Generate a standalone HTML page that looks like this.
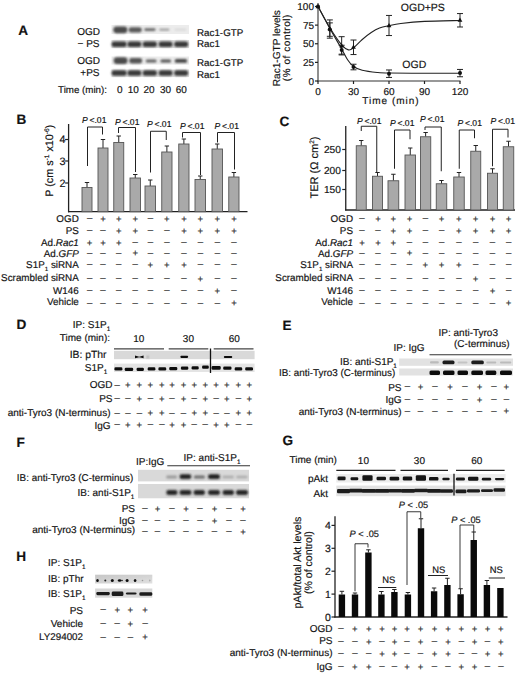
<!DOCTYPE html>
<html><head><meta charset="utf-8"><style>
html,body{margin:0;padding:0;background:#fff;}
svg{display:block;text-rendering:geometricPrecision;}
text{stroke:#1a1a1a;stroke-width:0.18px;}
</style></head><body>
<svg width="520" height="673" viewBox="0 0 520 673" font-family='"Liberation Sans", sans-serif' font-size="10" fill="#111">
<defs><filter id="bl" x="-20%" y="-50%" width="140%" height="200%"><feGaussianBlur stdDeviation="0.6"/></filter>
<filter id="bl2" x="-30%" y="-80%" width="160%" height="260%"><feGaussianBlur stdDeviation="0.9"/></filter></defs>
<rect width="520" height="673" fill="#fff"/>
<text x="18.2" y="35" font-size="13.6" font-weight="bold">A</text>
<text x="100" y="34.5" text-anchor="end">OGD</text>
<text x="99.5" y="47" text-anchor="end">&#8722; PS</text>
<text x="100" y="64" text-anchor="end">OGD</text>
<text x="99.5" y="76" text-anchor="end">+PS</text>
<text x="107" y="92.5" font-size="9.75" text-anchor="end">Time (min):</text>
<text x="119.8" y="92.5" text-anchor="middle">0</text>
<text x="133.2" y="92.5" text-anchor="middle">10</text>
<text x="149.1" y="92.5" text-anchor="middle">20</text>
<text x="165.6" y="92.5" text-anchor="middle">30</text>
<text x="181.2" y="92.5" text-anchor="middle">60</text>
<rect x="111.5" y="25" width="77.5" height="9" fill="#ececec"/>
<rect x="111.5" y="40" width="77.5" height="8" fill="#e0e0e0"/>
<rect x="111.5" y="56.5" width="77.5" height="8" fill="#ececec"/>
<rect x="111.5" y="69.5" width="77.5" height="7.5" fill="#e0e0e0"/>
<rect x="113.3" y="26.4" width="14.100000000000009" height="6.800000000000004" rx="3.4" fill="#4c4c4c" filter="url(#bl2)"/>
<rect x="128.6" y="27.2" width="13.200000000000017" height="5.199999999999999" rx="2.6" fill="#5a5a5a" filter="url(#bl2)"/>
<rect x="144.2" y="28.2" width="11.400000000000006" height="2.8000000000000007" rx="1.4" fill="#666" filter="url(#bl2)"/>
<rect x="159.3" y="28.8" width="10.099999999999994" height="1.6999999999999993" rx="0.8" fill="#8a8a8a" filter="url(#bl2)"/>
<rect x="174.5" y="28.7" width="11.800000000000011" height="1.8000000000000007" rx="0.8" fill="#d5d5d5" filter="url(#bl2)"/>
<rect x="111.6" y="41.4" width="15.0" height="5.600000000000001" rx="2.5" fill="#383838" filter="url(#bl2)"/>
<rect x="127.5" y="41.4" width="13.800000000000011" height="5.600000000000001" rx="2.5" fill="#383838" filter="url(#bl2)"/>
<rect x="142.7" y="41.4" width="14.200000000000017" height="5.600000000000001" rx="2.5" fill="#383838" filter="url(#bl2)"/>
<rect x="158.7" y="41.4" width="13.800000000000011" height="5.600000000000001" rx="2.5" fill="#383838" filter="url(#bl2)"/>
<rect x="174.2" y="41.4" width="13.900000000000006" height="5.600000000000001" rx="2.5" fill="#383838" filter="url(#bl2)"/>
<rect x="113.7" y="57.3" width="13.799999999999997" height="6.700000000000003" rx="3.3" fill="#4c4c4c" filter="url(#bl2)"/>
<rect x="129.2" y="58" width="13.0" height="5.5" rx="2.7" fill="#555" filter="url(#bl2)"/>
<rect x="145.7" y="59.4" width="10.900000000000006" height="3.0" rx="1.5" fill="#606060" filter="url(#bl2)"/>
<rect x="160.4" y="59.4" width="10.699999999999989" height="3.0" rx="1.5" fill="#555" filter="url(#bl2)"/>
<rect x="174.7" y="59" width="12.5" height="3.799999999999997" rx="1.9" fill="#444" filter="url(#bl2)"/>
<rect x="111.6" y="70.2" width="15.0" height="5.599999999999994" rx="2.5" fill="#383838" filter="url(#bl2)"/>
<rect x="127.5" y="70.2" width="13.800000000000011" height="5.599999999999994" rx="2.5" fill="#383838" filter="url(#bl2)"/>
<rect x="142.7" y="70.2" width="14.200000000000017" height="5.599999999999994" rx="2.5" fill="#383838" filter="url(#bl2)"/>
<rect x="158.7" y="70.2" width="13.800000000000011" height="5.599999999999994" rx="2.5" fill="#383838" filter="url(#bl2)"/>
<rect x="174.2" y="70.2" width="13.900000000000006" height="5.599999999999994" rx="2.5" fill="#383838" filter="url(#bl2)"/>
<text x="197" y="36.1" font-size="9.8">Rac1-GTP</text>
<text x="197" y="47.1" font-size="9.8">Rac1</text>
<text x="197" y="65.6" font-size="9.8">Rac1-GTP</text>
<text x="197" y="78.1" font-size="9.8">Rac1</text>
<line x1="318" y1="3" x2="318" y2="81.5" stroke="#333" stroke-width="1.1"/>
<line x1="317.5" y1="81" x2="460.5" y2="81" stroke="#333" stroke-width="1.1"/>
<line x1="315" y1="6.5" x2="318" y2="6.5" stroke="#222" stroke-width="1.2"/>
<text x="314" y="10.1" text-anchor="end">100</text>
<line x1="315" y1="25.125" x2="318" y2="25.125" stroke="#222" stroke-width="1.2"/>
<text x="314" y="28.725" text-anchor="end">75</text>
<line x1="315" y1="43.75" x2="318" y2="43.75" stroke="#222" stroke-width="1.2"/>
<text x="314" y="47.35" text-anchor="end">50</text>
<line x1="315" y1="62.375" x2="318" y2="62.375" stroke="#222" stroke-width="1.2"/>
<text x="314" y="65.975" text-anchor="end">25</text>
<line x1="315" y1="81.0" x2="318" y2="81.0" stroke="#222" stroke-width="1.2"/>
<text x="314" y="84.6" text-anchor="end">0</text>
<line x1="318.0" y1="81" x2="318.0" y2="84" stroke="#222" stroke-width="1.2"/>
<text x="318.0" y="95" text-anchor="middle">0</text>
<line x1="353.5" y1="81" x2="353.5" y2="84" stroke="#222" stroke-width="1.2"/>
<text x="353.5" y="95" text-anchor="middle">30</text>
<line x1="389.0" y1="81" x2="389.0" y2="84" stroke="#222" stroke-width="1.2"/>
<text x="389.0" y="95" text-anchor="middle">60</text>
<line x1="424.5" y1="81" x2="424.5" y2="84" stroke="#222" stroke-width="1.2"/>
<text x="424.5" y="95" text-anchor="middle">90</text>
<line x1="460.0" y1="81" x2="460.0" y2="84" stroke="#222" stroke-width="1.2"/>
<text x="460.0" y="95" text-anchor="middle">120</text>
<text x="391" y="104" text-anchor="middle" letter-spacing="1">Time (min)</text>
<text transform="translate(280,48.2) rotate(-90)" text-anchor="middle" font-size="10.1">Rac1-GTP levels</text>
<text transform="translate(289.6,47.6) rotate(-90)" text-anchor="middle" letter-spacing="0.55">(% of control)</text>
<text x="400.8" y="10.6" font-size="10.5">OGD+PS</text>
<text x="402.3" y="68.2" font-size="10.5">OGD</text>
<path d="M318.00,6.50 C319.97,10.16 325.89,21.40 329.83,28.48 C333.78,35.55 338.71,43.76 341.67,48.97 C344.62,54.17 345.61,56.78 347.58,59.69 C349.56,62.61 351.05,64.72 353.50,66.47 C355.95,68.22 358.31,69.20 362.26,70.20 C366.20,71.19 372.71,71.96 377.17,72.43 C381.62,72.90 381.11,72.89 389.00,73.03 C396.89,73.17 412.67,73.21 424.50,73.25 C436.33,73.29 454.08,73.25 460.00,73.25" fill="none" stroke="#222" stroke-width="1.1"/>
<path d="M318.00,6.50 C319.97,10.04 325.89,21.34 329.83,27.73 C333.78,34.13 338.57,41.18 341.67,44.87 C344.76,48.56 346.44,49.36 348.41,49.86 C350.38,50.36 351.19,49.57 353.50,47.85 C355.81,46.12 359.30,42.05 362.26,39.50 C365.21,36.96 368.37,34.47 371.25,32.58 C374.13,30.68 376.57,29.26 379.53,28.10 C382.49,26.95 385.45,26.42 389.00,25.65 C392.55,24.88 394.92,24.19 400.83,23.49 C406.75,22.78 414.64,21.91 424.50,21.40 C434.36,20.89 454.08,20.59 460.00,20.43" fill="none" stroke="#222" stroke-width="1.1"/>
<line x1="329.8333333333333" y1="19.910000000000004" x2="329.8333333333333" y2="38.1625" stroke="#222" stroke-width="1"/>
<line x1="326.8333333333333" y1="19.910000000000004" x2="332.8333333333333" y2="19.910000000000004" stroke="#222" stroke-width="1"/>
<line x1="326.8333333333333" y1="38.1625" x2="332.8333333333333" y2="38.1625" stroke="#222" stroke-width="1"/>
<line x1="341.6666666666667" y1="36.6725" x2="341.6666666666667" y2="54.925" stroke="#222" stroke-width="1"/>
<line x1="338.6666666666667" y1="36.6725" x2="344.6666666666667" y2="36.6725" stroke="#222" stroke-width="1"/>
<line x1="338.6666666666667" y1="54.925" x2="344.6666666666667" y2="54.925" stroke="#222" stroke-width="1"/>
<line x1="353.5" y1="40.025" x2="353.5" y2="54.552499999999995" stroke="#222" stroke-width="1"/>
<line x1="350.5" y1="40.025" x2="356.5" y2="40.025" stroke="#222" stroke-width="1"/>
<line x1="350.5" y1="54.552499999999995" x2="356.5" y2="54.552499999999995" stroke="#222" stroke-width="1"/>
<line x1="389.0" y1="15.439999999999998" x2="389.0" y2="35.555" stroke="#222" stroke-width="1"/>
<line x1="386.0" y1="15.439999999999998" x2="392.0" y2="15.439999999999998" stroke="#222" stroke-width="1"/>
<line x1="386.0" y1="35.555" x2="392.0" y2="35.555" stroke="#222" stroke-width="1"/>
<line x1="460.0" y1="13.5775" x2="460.0" y2="26.987499999999997" stroke="#222" stroke-width="1"/>
<line x1="457.0" y1="13.5775" x2="463.0" y2="13.5775" stroke="#222" stroke-width="1"/>
<line x1="457.0" y1="26.987499999999997" x2="463.0" y2="26.987499999999997" stroke="#222" stroke-width="1"/>
<line x1="329.8333333333333" y1="22.89" x2="329.8333333333333" y2="36.3" stroke="#222" stroke-width="1"/>
<line x1="326.8333333333333" y1="22.89" x2="332.8333333333333" y2="22.89" stroke="#222" stroke-width="1"/>
<line x1="326.8333333333333" y1="36.3" x2="332.8333333333333" y2="36.3" stroke="#222" stroke-width="1"/>
<line x1="341.6666666666667" y1="45.24" x2="341.6666666666667" y2="54.18" stroke="#222" stroke-width="1"/>
<line x1="338.6666666666667" y1="45.24" x2="344.6666666666667" y2="45.24" stroke="#222" stroke-width="1"/>
<line x1="338.6666666666667" y1="54.18" x2="344.6666666666667" y2="54.18" stroke="#222" stroke-width="1"/>
<line x1="353.5" y1="64.2375" x2="353.5" y2="69.825" stroke="#222" stroke-width="1"/>
<line x1="350.5" y1="64.2375" x2="356.5" y2="64.2375" stroke="#222" stroke-width="1"/>
<line x1="350.5" y1="69.825" x2="356.5" y2="69.825" stroke="#222" stroke-width="1"/>
<line x1="389.0" y1="69.974" x2="389.0" y2="77.424" stroke="#222" stroke-width="1"/>
<line x1="386.0" y1="69.974" x2="392.0" y2="69.974" stroke="#222" stroke-width="1"/>
<line x1="386.0" y1="77.424" x2="392.0" y2="77.424" stroke="#222" stroke-width="1"/>
<line x1="460.0" y1="69.4525" x2="460.0" y2="76.7535" stroke="#222" stroke-width="1"/>
<line x1="457.0" y1="69.4525" x2="463.0" y2="69.4525" stroke="#222" stroke-width="1"/>
<line x1="457.0" y1="76.7535" x2="463.0" y2="76.7535" stroke="#222" stroke-width="1"/>
<path d="M318.00,3.90 L320.40,8.30 L315.60,8.30Z" fill="#111"/>
<path d="M329.83,25.88 L332.23,30.28 L327.43,30.28Z" fill="#111"/>
<path d="M341.67,43.16 L344.07,47.56 L339.27,47.56Z" fill="#111"/>
<path d="M353.50,44.43 L355.90,48.83 L351.10,48.83Z" fill="#111"/>
<path d="M389.00,22.90 L391.40,27.30 L386.60,27.30Z" fill="#111"/>
<path d="M460.00,17.38 L462.40,21.78 L457.60,21.78Z" fill="#111"/>
<circle cx="318.00" cy="6.50" r="2" fill="#111"/>
<circle cx="329.83" cy="29.59" r="2" fill="#111"/>
<circle cx="341.67" cy="50.01" r="2" fill="#111"/>
<circle cx="353.50" cy="66.99" r="2" fill="#111"/>
<circle cx="389.00" cy="73.77" r="2" fill="#111"/>
<circle cx="460.00" cy="73.03" r="2" fill="#111"/>
<text x="16.6" y="123.9" font-size="13.6" font-weight="bold">B</text>
<line x1="68.6" y1="124" x2="68.6" y2="212.29999999999998" stroke="#222" stroke-width="1.3"/>
<line x1="68.0" y1="211.7" x2="247.5" y2="211.7" stroke="#222" stroke-width="1.3"/>
<line x1="65.1" y1="139.5" x2="68.6" y2="139.5" stroke="#222" stroke-width="1.2"/>
<text x="65.39999999999999" y="143.1" font-size="10.8" text-anchor="end">4</text>
<line x1="65.1" y1="161" x2="68.6" y2="161" stroke="#222" stroke-width="1.2"/>
<text x="65.39999999999999" y="164.6" font-size="10.8" text-anchor="end">3</text>
<line x1="65.1" y1="183" x2="68.6" y2="183" stroke="#222" stroke-width="1.2"/>
<text x="65.39999999999999" y="186.6" font-size="10.8" text-anchor="end">2</text>
<line x1="87.0" y1="182.5" x2="87.0" y2="187.5" stroke="#222" stroke-width="1"/>
<line x1="84.8" y1="182.5" x2="89.2" y2="182.5" stroke="#222" stroke-width="1"/>
<rect x="82" y="187.5" width="10" height="24.19999999999999" fill="#a9a9a9" stroke="#555" stroke-width="0.9"/>
<line x1="103.0" y1="139.5" x2="103.0" y2="148" stroke="#222" stroke-width="1"/>
<line x1="100.8" y1="139.5" x2="105.2" y2="139.5" stroke="#222" stroke-width="1"/>
<rect x="98" y="148" width="10" height="63.69999999999999" fill="#a9a9a9" stroke="#555" stroke-width="0.9"/>
<line x1="118.75" y1="136" x2="118.75" y2="142.5" stroke="#222" stroke-width="1"/>
<line x1="116.55" y1="136" x2="120.95" y2="136" stroke="#222" stroke-width="1"/>
<rect x="113.75" y="142.5" width="10.0" height="69.19999999999999" fill="#a9a9a9" stroke="#555" stroke-width="0.9"/>
<line x1="135.25" y1="174.5" x2="135.25" y2="178" stroke="#222" stroke-width="1"/>
<line x1="133.05" y1="174.5" x2="137.45" y2="174.5" stroke="#222" stroke-width="1"/>
<rect x="130" y="178" width="10.5" height="33.69999999999999" fill="#a9a9a9" stroke="#555" stroke-width="0.9"/>
<line x1="150.25" y1="180" x2="150.25" y2="186" stroke="#222" stroke-width="1"/>
<line x1="148.05" y1="180" x2="152.45" y2="180" stroke="#222" stroke-width="1"/>
<rect x="145" y="186" width="10.5" height="25.69999999999999" fill="#a9a9a9" stroke="#555" stroke-width="0.9"/>
<line x1="166.875" y1="146" x2="166.875" y2="152" stroke="#222" stroke-width="1"/>
<line x1="164.675" y1="146" x2="169.075" y2="146" stroke="#222" stroke-width="1"/>
<rect x="161.75" y="152" width="10.25" height="59.69999999999999" fill="#a9a9a9" stroke="#555" stroke-width="0.9"/>
<line x1="183.875" y1="139" x2="183.875" y2="144" stroke="#222" stroke-width="1"/>
<line x1="181.675" y1="139" x2="186.075" y2="139" stroke="#222" stroke-width="1"/>
<rect x="178.75" y="144" width="10.25" height="67.69999999999999" fill="#a9a9a9" stroke="#555" stroke-width="0.9"/>
<line x1="200.25" y1="176" x2="200.25" y2="179.5" stroke="#222" stroke-width="1"/>
<line x1="198.05" y1="176" x2="202.45" y2="176" stroke="#222" stroke-width="1"/>
<rect x="195" y="179.5" width="10.5" height="32.19999999999999" fill="#a9a9a9" stroke="#555" stroke-width="0.9"/>
<line x1="217.25" y1="144" x2="217.25" y2="149" stroke="#222" stroke-width="1"/>
<line x1="215.05" y1="144" x2="219.45" y2="144" stroke="#222" stroke-width="1"/>
<rect x="212" y="149" width="10.5" height="62.69999999999999" fill="#a9a9a9" stroke="#555" stroke-width="0.9"/>
<line x1="233.875" y1="172.5" x2="233.875" y2="177" stroke="#222" stroke-width="1"/>
<line x1="231.675" y1="172.5" x2="236.075" y2="172.5" stroke="#222" stroke-width="1"/>
<rect x="228.75" y="177" width="10.25" height="34.69999999999999" fill="#a9a9a9" stroke="#555" stroke-width="0.9"/>
<text x="82" y="122.5" font-size="8.6"><tspan font-style="italic">P</tspan>&#8201;&lt;.01</text>
<path d="M87.5,166 V127 H102.5 V134.5" fill="none" stroke="#222" stroke-width="1"/>
<text x="115" y="125" font-size="8.6"><tspan font-style="italic">P</tspan>&#8201;&lt;.01</text>
<path d="M118.5,133 V127.5 H135.5 V172" fill="none" stroke="#222" stroke-width="1"/>
<text x="147" y="127" font-size="8.6"><tspan font-style="italic">P</tspan>&#8201;&lt;.01</text>
<path d="M150.5,172.5 V131.25 H166.25 V140" fill="none" stroke="#222" stroke-width="1"/>
<text x="180" y="128.7" font-size="8.6"><tspan font-style="italic">P</tspan>&#8201;&lt;.01</text>
<path d="M182.5,137.5 V132.5 H200.5 V175" fill="none" stroke="#222" stroke-width="1"/>
<text x="214.5" y="129" font-size="8.6"><tspan font-style="italic">P</tspan>&#8201;&lt;.01</text>
<path d="M217.5,142.5 V132.5 H234.5 V169.5" fill="none" stroke="#222" stroke-width="1"/>
<text transform="translate(52.9,160.8) rotate(-90)" text-anchor="middle" font-size="10.8">P (cm s<tspan font-size="6.5" dy="-4">-1</tspan><tspan dy="4"> x10</tspan><tspan font-size="6.5" dy="-4">-6</tspan><tspan dy="4">)</tspan></text>
<text x="78.8" y="222.1" font-size="9.85" text-anchor="end">OGD</text>
<text x="89.6" y="221.2" font-size="9.6" text-anchor="middle" fill="#383838">&#8211;</text>
<text x="103" y="222" font-size="9.6" text-anchor="middle" fill="#383838">+</text>
<text x="118.7" y="222" font-size="9.6" text-anchor="middle" fill="#383838">+</text>
<text x="135.25" y="222" font-size="9.6" text-anchor="middle" fill="#383838">+</text>
<text x="150.4" y="221.2" font-size="9.6" text-anchor="middle" fill="#383838">&#8211;</text>
<text x="166.9" y="222" font-size="9.6" text-anchor="middle" fill="#383838">+</text>
<text x="184" y="222" font-size="9.6" text-anchor="middle" fill="#383838">+</text>
<text x="200.4" y="222" font-size="9.6" text-anchor="middle" fill="#383838">+</text>
<text x="217.3" y="222" font-size="9.6" text-anchor="middle" fill="#383838">+</text>
<text x="234" y="222" font-size="9.6" text-anchor="middle" fill="#383838">+</text>
<text x="78.8" y="234.3" font-size="9.85" text-anchor="end">PS</text>
<text x="89.6" y="233.2" font-size="9.6" text-anchor="middle" fill="#383838">&#8211;</text>
<text x="103" y="233.2" font-size="9.6" text-anchor="middle" fill="#383838">&#8211;</text>
<text x="118.7" y="234" font-size="9.6" text-anchor="middle" fill="#383838">+</text>
<text x="135.25" y="234" font-size="9.6" text-anchor="middle" fill="#383838">+</text>
<text x="150.4" y="233.2" font-size="9.6" text-anchor="middle" fill="#383838">&#8211;</text>
<text x="166.9" y="233.2" font-size="9.6" text-anchor="middle" fill="#383838">&#8211;</text>
<text x="184" y="234" font-size="9.6" text-anchor="middle" fill="#383838">+</text>
<text x="200.4" y="234" font-size="9.6" text-anchor="middle" fill="#383838">+</text>
<text x="217.3" y="234" font-size="9.6" text-anchor="middle" fill="#383838">+</text>
<text x="234" y="234" font-size="9.6" text-anchor="middle" fill="#383838">+</text>
<text x="78.8" y="245.9" font-size="9.85" text-anchor="end">Ad.<tspan font-style="italic">Rac1</tspan></text>
<text x="89.6" y="245.8" font-size="9.6" text-anchor="middle" fill="#383838">+</text>
<text x="103" y="245.8" font-size="9.6" text-anchor="middle" fill="#383838">+</text>
<text x="118.7" y="245.8" font-size="9.6" text-anchor="middle" fill="#383838">+</text>
<text x="135.25" y="245.0" font-size="9.6" text-anchor="middle" fill="#383838">&#8211;</text>
<text x="150.4" y="245.0" font-size="9.6" text-anchor="middle" fill="#383838">&#8211;</text>
<text x="166.9" y="245.0" font-size="9.6" text-anchor="middle" fill="#383838">&#8211;</text>
<text x="184" y="245.0" font-size="9.6" text-anchor="middle" fill="#383838">&#8211;</text>
<text x="200.4" y="245.0" font-size="9.6" text-anchor="middle" fill="#383838">&#8211;</text>
<text x="217.3" y="245.0" font-size="9.6" text-anchor="middle" fill="#383838">&#8211;</text>
<text x="234" y="245.0" font-size="9.6" text-anchor="middle" fill="#383838">&#8211;</text>
<text x="78.8" y="257.0" font-size="9.85" text-anchor="end">Ad.<tspan font-style="italic">GFP</tspan></text>
<text x="89.6" y="255.5" font-size="9.6" text-anchor="middle" fill="#383838">&#8211;</text>
<text x="103" y="255.5" font-size="9.6" text-anchor="middle" fill="#383838">&#8211;</text>
<text x="118.7" y="255.5" font-size="9.6" text-anchor="middle" fill="#383838">&#8211;</text>
<text x="135.25" y="256.3" font-size="9.6" text-anchor="middle" fill="#383838">+</text>
<text x="150.4" y="255.5" font-size="9.6" text-anchor="middle" fill="#383838">&#8211;</text>
<text x="166.9" y="255.5" font-size="9.6" text-anchor="middle" fill="#383838">&#8211;</text>
<text x="184" y="255.5" font-size="9.6" text-anchor="middle" fill="#383838">&#8211;</text>
<text x="200.4" y="255.5" font-size="9.6" text-anchor="middle" fill="#383838">&#8211;</text>
<text x="217.3" y="255.5" font-size="9.6" text-anchor="middle" fill="#383838">&#8211;</text>
<text x="234" y="255.5" font-size="9.6" text-anchor="middle" fill="#383838">&#8211;</text>
<text x="78.8" y="268.4" font-size="9.85" text-anchor="end">S1P<tspan font-size="6.2" dy="3">1</tspan><tspan dy="-3"> siRNA</tspan></text>
<text x="89.6" y="267.2" font-size="9.6" text-anchor="middle" fill="#383838">&#8211;</text>
<text x="103" y="267.2" font-size="9.6" text-anchor="middle" fill="#383838">&#8211;</text>
<text x="118.7" y="267.2" font-size="9.6" text-anchor="middle" fill="#383838">&#8211;</text>
<text x="135.25" y="267.2" font-size="9.6" text-anchor="middle" fill="#383838">&#8211;</text>
<text x="150.4" y="268" font-size="9.6" text-anchor="middle" fill="#383838">+</text>
<text x="166.9" y="268" font-size="9.6" text-anchor="middle" fill="#383838">+</text>
<text x="184" y="268" font-size="9.6" text-anchor="middle" fill="#383838">+</text>
<text x="200.4" y="267.2" font-size="9.6" text-anchor="middle" fill="#383838">&#8211;</text>
<text x="217.3" y="267.2" font-size="9.6" text-anchor="middle" fill="#383838">&#8211;</text>
<text x="234" y="267.2" font-size="9.6" text-anchor="middle" fill="#383838">&#8211;</text>
<text x="78.8" y="281.1" font-size="9.85" text-anchor="end">Scrambled siRNA</text>
<text x="89.6" y="281.1" font-size="9.6" text-anchor="middle" fill="#383838">&#8211;</text>
<text x="103" y="281.1" font-size="9.6" text-anchor="middle" fill="#383838">&#8211;</text>
<text x="118.7" y="281.1" font-size="9.6" text-anchor="middle" fill="#383838">&#8211;</text>
<text x="135.25" y="281.1" font-size="9.6" text-anchor="middle" fill="#383838">&#8211;</text>
<text x="150.4" y="281.1" font-size="9.6" text-anchor="middle" fill="#383838">&#8211;</text>
<text x="166.9" y="281.1" font-size="9.6" text-anchor="middle" fill="#383838">&#8211;</text>
<text x="184" y="281.1" font-size="9.6" text-anchor="middle" fill="#383838">&#8211;</text>
<text x="200.4" y="281.9" font-size="9.6" text-anchor="middle" fill="#383838">+</text>
<text x="217.3" y="281.1" font-size="9.6" text-anchor="middle" fill="#383838">&#8211;</text>
<text x="234" y="281.1" font-size="9.6" text-anchor="middle" fill="#383838">&#8211;</text>
<text x="78.8" y="293.9" font-size="9.85" text-anchor="end">W146</text>
<text x="89.6" y="292.9" font-size="9.6" text-anchor="middle" fill="#383838">&#8211;</text>
<text x="103" y="292.9" font-size="9.6" text-anchor="middle" fill="#383838">&#8211;</text>
<text x="118.7" y="292.9" font-size="9.6" text-anchor="middle" fill="#383838">&#8211;</text>
<text x="135.25" y="292.9" font-size="9.6" text-anchor="middle" fill="#383838">&#8211;</text>
<text x="150.4" y="292.9" font-size="9.6" text-anchor="middle" fill="#383838">&#8211;</text>
<text x="166.9" y="292.9" font-size="9.6" text-anchor="middle" fill="#383838">&#8211;</text>
<text x="184" y="292.9" font-size="9.6" text-anchor="middle" fill="#383838">&#8211;</text>
<text x="200.4" y="292.9" font-size="9.6" text-anchor="middle" fill="#383838">&#8211;</text>
<text x="217.3" y="293.7" font-size="9.6" text-anchor="middle" fill="#383838">+</text>
<text x="234" y="292.9" font-size="9.6" text-anchor="middle" fill="#383838">&#8211;</text>
<text x="78.8" y="305.1" font-size="9.85" text-anchor="end">Vehicle</text>
<text x="89.6" y="305.6" font-size="9.6" text-anchor="middle" fill="#383838">&#8211;</text>
<text x="103" y="305.6" font-size="9.6" text-anchor="middle" fill="#383838">&#8211;</text>
<text x="118.7" y="305.6" font-size="9.6" text-anchor="middle" fill="#383838">&#8211;</text>
<text x="135.25" y="305.6" font-size="9.6" text-anchor="middle" fill="#383838">&#8211;</text>
<text x="150.4" y="305.6" font-size="9.6" text-anchor="middle" fill="#383838">&#8211;</text>
<text x="166.9" y="305.6" font-size="9.6" text-anchor="middle" fill="#383838">&#8211;</text>
<text x="184" y="305.6" font-size="9.6" text-anchor="middle" fill="#383838">&#8211;</text>
<text x="200.4" y="305.6" font-size="9.6" text-anchor="middle" fill="#383838">&#8211;</text>
<text x="217.3" y="305.6" font-size="9.6" text-anchor="middle" fill="#383838">&#8211;</text>
<text x="234" y="306.4" font-size="9.6" text-anchor="middle" fill="#383838">+</text>
<text x="279.6" y="125.5" font-size="13.6" font-weight="bold">C</text>
<line x1="345.75" y1="126" x2="345.75" y2="210.6" stroke="#222" stroke-width="1.3"/>
<line x1="345.15" y1="210" x2="515" y2="210" stroke="#222" stroke-width="1.3"/>
<line x1="342.25" y1="149.5" x2="345.75" y2="149.5" stroke="#222" stroke-width="1.2"/>
<text x="340.95" y="153.1" font-size="10.2" text-anchor="end">250</text>
<line x1="342.25" y1="170.5" x2="345.75" y2="170.5" stroke="#222" stroke-width="1.2"/>
<text x="340.95" y="174.1" font-size="10.2" text-anchor="end">200</text>
<line x1="342.25" y1="189.5" x2="345.75" y2="189.5" stroke="#222" stroke-width="1.2"/>
<text x="340.95" y="193.1" font-size="10.2" text-anchor="end">150</text>
<line x1="361.25" y1="140.5" x2="361.25" y2="145.75" stroke="#222" stroke-width="1"/>
<line x1="359.05" y1="140.5" x2="363.45" y2="140.5" stroke="#222" stroke-width="1"/>
<rect x="356.25" y="145.75" width="10.0" height="64.25" fill="#a9a9a9" stroke="#555" stroke-width="0.9"/>
<line x1="377.5" y1="172.5" x2="377.5" y2="176.25" stroke="#222" stroke-width="1"/>
<line x1="375.3" y1="172.5" x2="379.7" y2="172.5" stroke="#222" stroke-width="1"/>
<rect x="372.5" y="176.25" width="10.0" height="33.75" fill="#a9a9a9" stroke="#555" stroke-width="0.9"/>
<line x1="393.375" y1="174.25" x2="393.375" y2="180.75" stroke="#222" stroke-width="1"/>
<line x1="391.175" y1="174.25" x2="395.575" y2="174.25" stroke="#222" stroke-width="1"/>
<rect x="388" y="180.75" width="10.75" height="29.25" fill="#a9a9a9" stroke="#555" stroke-width="0.9"/>
<line x1="410.25" y1="148" x2="410.25" y2="155" stroke="#222" stroke-width="1"/>
<line x1="408.05" y1="148" x2="412.45" y2="148" stroke="#222" stroke-width="1"/>
<rect x="405" y="155" width="10.5" height="55" fill="#a9a9a9" stroke="#555" stroke-width="0.9"/>
<line x1="425.625" y1="132.5" x2="425.625" y2="136.75" stroke="#222" stroke-width="1"/>
<line x1="423.425" y1="132.5" x2="427.825" y2="132.5" stroke="#222" stroke-width="1"/>
<rect x="420.5" y="136.75" width="10.25" height="73.25" fill="#a9a9a9" stroke="#555" stroke-width="0.9"/>
<line x1="441.5" y1="180.5" x2="441.5" y2="183.75" stroke="#222" stroke-width="1"/>
<line x1="439.3" y1="180.5" x2="443.7" y2="180.5" stroke="#222" stroke-width="1"/>
<rect x="436.25" y="183.75" width="10.5" height="26.25" fill="#a9a9a9" stroke="#555" stroke-width="0.9"/>
<line x1="459.0" y1="172.5" x2="459.0" y2="177" stroke="#222" stroke-width="1"/>
<line x1="456.8" y1="172.5" x2="461.2" y2="172.5" stroke="#222" stroke-width="1"/>
<rect x="453.75" y="177" width="10.5" height="33" fill="#a9a9a9" stroke="#555" stroke-width="0.9"/>
<line x1="475.75" y1="145.5" x2="475.75" y2="151.25" stroke="#222" stroke-width="1"/>
<line x1="473.55" y1="145.5" x2="477.95" y2="145.5" stroke="#222" stroke-width="1"/>
<rect x="470.75" y="151.25" width="10.0" height="58.75" fill="#a9a9a9" stroke="#555" stroke-width="0.9"/>
<line x1="492.5" y1="168.75" x2="492.5" y2="173.25" stroke="#222" stroke-width="1"/>
<line x1="490.3" y1="168.75" x2="494.7" y2="168.75" stroke="#222" stroke-width="1"/>
<rect x="487.5" y="173.25" width="10.0" height="36.75" fill="#a9a9a9" stroke="#555" stroke-width="0.9"/>
<line x1="508.5" y1="141.25" x2="508.5" y2="146.75" stroke="#222" stroke-width="1"/>
<line x1="506.3" y1="141.25" x2="510.7" y2="141.25" stroke="#222" stroke-width="1"/>
<rect x="503.25" y="146.75" width="10.5" height="63.25" fill="#a9a9a9" stroke="#555" stroke-width="0.9"/>
<text x="357" y="124" font-size="8.6"><tspan font-style="italic">P</tspan>&#8201;&lt;.01</text>
<path d="M361.25,131 V126.25 H376.75 V172.5" fill="none" stroke="#222" stroke-width="1"/>
<text x="390" y="126" font-size="8.6"><tspan font-style="italic">P</tspan>&#8201;&lt;.01</text>
<path d="M394.5,168.75 V130 H410 V139.25" fill="none" stroke="#222" stroke-width="1"/>
<text x="420" y="122.3" font-size="8.6"><tspan font-style="italic">P</tspan>&#8201;&lt;.01</text>
<path d="M425,130 V127 H441.25 V171.25" fill="none" stroke="#222" stroke-width="1"/>
<text x="457.5" y="126" font-size="8.6"><tspan font-style="italic">P</tspan>&#8201;&lt;.01</text>
<path d="M459.25,168.75 V130 H474.5 V138.25" fill="none" stroke="#222" stroke-width="1"/>
<text x="490.5" y="123.7" font-size="8.6"><tspan font-style="italic">P</tspan>&#8201;&lt;.01</text>
<path d="M492.5,166.25 V129.25 H508 V137.5" fill="none" stroke="#222" stroke-width="1"/>
<text transform="translate(318,167.5) rotate(-90)" text-anchor="middle" font-size="11">TER (&#937; cm<tspan font-size="6.5" dy="-4">2</tspan><tspan dy="4">)</tspan></text>
<text x="353" y="222.1" font-size="9.85" text-anchor="end">OGD</text>
<text x="362" y="221.2" font-size="9.6" text-anchor="middle" fill="#383838">&#8211;</text>
<text x="378" y="222" font-size="9.6" text-anchor="middle" fill="#383838">+</text>
<text x="393.4" y="222" font-size="9.6" text-anchor="middle" fill="#383838">+</text>
<text x="409.5" y="222" font-size="9.6" text-anchor="middle" fill="#383838">+</text>
<text x="425.3" y="221.2" font-size="9.6" text-anchor="middle" fill="#383838">&#8211;</text>
<text x="441.6" y="222" font-size="9.6" text-anchor="middle" fill="#383838">+</text>
<text x="458.9" y="222" font-size="9.6" text-anchor="middle" fill="#383838">+</text>
<text x="475.6" y="222" font-size="9.6" text-anchor="middle" fill="#383838">+</text>
<text x="492.5" y="222" font-size="9.6" text-anchor="middle" fill="#383838">+</text>
<text x="508.6" y="222" font-size="9.6" text-anchor="middle" fill="#383838">+</text>
<text x="353" y="234.3" font-size="9.85" text-anchor="end">PS</text>
<text x="362" y="233.2" font-size="9.6" text-anchor="middle" fill="#383838">&#8211;</text>
<text x="378" y="233.2" font-size="9.6" text-anchor="middle" fill="#383838">&#8211;</text>
<text x="393.4" y="234" font-size="9.6" text-anchor="middle" fill="#383838">+</text>
<text x="409.5" y="234" font-size="9.6" text-anchor="middle" fill="#383838">+</text>
<text x="425.3" y="233.2" font-size="9.6" text-anchor="middle" fill="#383838">&#8211;</text>
<text x="441.6" y="233.2" font-size="9.6" text-anchor="middle" fill="#383838">&#8211;</text>
<text x="458.9" y="234" font-size="9.6" text-anchor="middle" fill="#383838">+</text>
<text x="475.6" y="234" font-size="9.6" text-anchor="middle" fill="#383838">+</text>
<text x="492.5" y="234" font-size="9.6" text-anchor="middle" fill="#383838">+</text>
<text x="508.6" y="234" font-size="9.6" text-anchor="middle" fill="#383838">+</text>
<text x="353" y="245.9" font-size="9.85" text-anchor="end">Ad.<tspan font-style="italic">Rac1</tspan></text>
<text x="362" y="245.8" font-size="9.6" text-anchor="middle" fill="#383838">+</text>
<text x="378" y="245.8" font-size="9.6" text-anchor="middle" fill="#383838">+</text>
<text x="393.4" y="245.8" font-size="9.6" text-anchor="middle" fill="#383838">+</text>
<text x="409.5" y="245.0" font-size="9.6" text-anchor="middle" fill="#383838">&#8211;</text>
<text x="425.3" y="245.0" font-size="9.6" text-anchor="middle" fill="#383838">&#8211;</text>
<text x="441.6" y="245.0" font-size="9.6" text-anchor="middle" fill="#383838">&#8211;</text>
<text x="458.9" y="245.0" font-size="9.6" text-anchor="middle" fill="#383838">&#8211;</text>
<text x="475.6" y="245.0" font-size="9.6" text-anchor="middle" fill="#383838">&#8211;</text>
<text x="492.5" y="245.0" font-size="9.6" text-anchor="middle" fill="#383838">&#8211;</text>
<text x="508.6" y="245.0" font-size="9.6" text-anchor="middle" fill="#383838">&#8211;</text>
<text x="353" y="257.0" font-size="9.85" text-anchor="end">Ad.<tspan font-style="italic">GFP</tspan></text>
<text x="362" y="255.5" font-size="9.6" text-anchor="middle" fill="#383838">&#8211;</text>
<text x="378" y="255.5" font-size="9.6" text-anchor="middle" fill="#383838">&#8211;</text>
<text x="393.4" y="255.5" font-size="9.6" text-anchor="middle" fill="#383838">&#8211;</text>
<text x="409.5" y="256.3" font-size="9.6" text-anchor="middle" fill="#383838">+</text>
<text x="425.3" y="255.5" font-size="9.6" text-anchor="middle" fill="#383838">&#8211;</text>
<text x="441.6" y="255.5" font-size="9.6" text-anchor="middle" fill="#383838">&#8211;</text>
<text x="458.9" y="255.5" font-size="9.6" text-anchor="middle" fill="#383838">&#8211;</text>
<text x="475.6" y="255.5" font-size="9.6" text-anchor="middle" fill="#383838">&#8211;</text>
<text x="492.5" y="255.5" font-size="9.6" text-anchor="middle" fill="#383838">&#8211;</text>
<text x="508.6" y="255.5" font-size="9.6" text-anchor="middle" fill="#383838">&#8211;</text>
<text x="353" y="268.4" font-size="9.85" text-anchor="end">S1P<tspan font-size="6.2" dy="3">1</tspan><tspan dy="-3"> siRNA</tspan></text>
<text x="362" y="267.2" font-size="9.6" text-anchor="middle" fill="#383838">&#8211;</text>
<text x="378" y="267.2" font-size="9.6" text-anchor="middle" fill="#383838">&#8211;</text>
<text x="393.4" y="267.2" font-size="9.6" text-anchor="middle" fill="#383838">&#8211;</text>
<text x="409.5" y="267.2" font-size="9.6" text-anchor="middle" fill="#383838">&#8211;</text>
<text x="425.3" y="268" font-size="9.6" text-anchor="middle" fill="#383838">+</text>
<text x="441.6" y="268" font-size="9.6" text-anchor="middle" fill="#383838">+</text>
<text x="458.9" y="268" font-size="9.6" text-anchor="middle" fill="#383838">+</text>
<text x="475.6" y="267.2" font-size="9.6" text-anchor="middle" fill="#383838">&#8211;</text>
<text x="492.5" y="267.2" font-size="9.6" text-anchor="middle" fill="#383838">&#8211;</text>
<text x="508.6" y="267.2" font-size="9.6" text-anchor="middle" fill="#383838">&#8211;</text>
<text x="353" y="281.1" font-size="9.85" text-anchor="end">Scrambled siRNA</text>
<text x="362" y="281.1" font-size="9.6" text-anchor="middle" fill="#383838">&#8211;</text>
<text x="378" y="281.1" font-size="9.6" text-anchor="middle" fill="#383838">&#8211;</text>
<text x="393.4" y="281.1" font-size="9.6" text-anchor="middle" fill="#383838">&#8211;</text>
<text x="409.5" y="281.1" font-size="9.6" text-anchor="middle" fill="#383838">&#8211;</text>
<text x="425.3" y="281.1" font-size="9.6" text-anchor="middle" fill="#383838">&#8211;</text>
<text x="441.6" y="281.1" font-size="9.6" text-anchor="middle" fill="#383838">&#8211;</text>
<text x="458.9" y="281.1" font-size="9.6" text-anchor="middle" fill="#383838">&#8211;</text>
<text x="475.6" y="281.9" font-size="9.6" text-anchor="middle" fill="#383838">+</text>
<text x="492.5" y="281.1" font-size="9.6" text-anchor="middle" fill="#383838">&#8211;</text>
<text x="508.6" y="281.1" font-size="9.6" text-anchor="middle" fill="#383838">&#8211;</text>
<text x="353" y="293.9" font-size="9.85" text-anchor="end">W146</text>
<text x="362" y="292.9" font-size="9.6" text-anchor="middle" fill="#383838">&#8211;</text>
<text x="378" y="292.9" font-size="9.6" text-anchor="middle" fill="#383838">&#8211;</text>
<text x="393.4" y="292.9" font-size="9.6" text-anchor="middle" fill="#383838">&#8211;</text>
<text x="409.5" y="292.9" font-size="9.6" text-anchor="middle" fill="#383838">&#8211;</text>
<text x="425.3" y="292.9" font-size="9.6" text-anchor="middle" fill="#383838">&#8211;</text>
<text x="441.6" y="292.9" font-size="9.6" text-anchor="middle" fill="#383838">&#8211;</text>
<text x="458.9" y="292.9" font-size="9.6" text-anchor="middle" fill="#383838">&#8211;</text>
<text x="475.6" y="292.9" font-size="9.6" text-anchor="middle" fill="#383838">&#8211;</text>
<text x="492.5" y="293.7" font-size="9.6" text-anchor="middle" fill="#383838">+</text>
<text x="508.6" y="292.9" font-size="9.6" text-anchor="middle" fill="#383838">&#8211;</text>
<text x="353" y="305.1" font-size="9.85" text-anchor="end">Vehicle</text>
<text x="362" y="305.6" font-size="9.6" text-anchor="middle" fill="#383838">&#8211;</text>
<text x="378" y="305.6" font-size="9.6" text-anchor="middle" fill="#383838">&#8211;</text>
<text x="393.4" y="305.6" font-size="9.6" text-anchor="middle" fill="#383838">&#8211;</text>
<text x="409.5" y="305.6" font-size="9.6" text-anchor="middle" fill="#383838">&#8211;</text>
<text x="425.3" y="305.6" font-size="9.6" text-anchor="middle" fill="#383838">&#8211;</text>
<text x="441.6" y="305.6" font-size="9.6" text-anchor="middle" fill="#383838">&#8211;</text>
<text x="458.9" y="305.6" font-size="9.6" text-anchor="middle" fill="#383838">&#8211;</text>
<text x="475.6" y="305.6" font-size="9.6" text-anchor="middle" fill="#383838">&#8211;</text>
<text x="492.5" y="305.6" font-size="9.6" text-anchor="middle" fill="#383838">&#8211;</text>
<text x="508.6" y="306.4" font-size="9.6" text-anchor="middle" fill="#383838">+</text>
<text x="16.4" y="328.8" font-size="13.6" font-weight="bold">D</text>
<text x="110.3" y="327.8" text-anchor="end">IP: S1P<tspan font-size="6.4" dy="3">1</tspan></text>
<text x="110" y="341.3" text-anchor="end">Time (min):</text>
<text x="138.7" y="341.5" text-anchor="middle">10</text>
<text x="188.4" y="341.5" text-anchor="middle">30</text>
<text x="234.3" y="341.5" text-anchor="middle">60</text>
<line x1="114" y1="348.9" x2="164" y2="348.9" stroke="#444" stroke-width="1.2"/>
<line x1="168.7" y1="348.9" x2="208.3" y2="348.9" stroke="#444" stroke-width="1.2"/>
<line x1="213.7" y1="348.9" x2="253.5" y2="348.9" stroke="#444" stroke-width="1.2"/>
<rect x="114" y="350.8" width="140.6" height="8.4" fill="#d9d9d9"/>
<rect x="114" y="363.6" width="140.6" height="8.4" fill="#e4e4e4"/>
<text x="106.6" y="358" font-size="10.4" text-anchor="end">IB: pThr</text>
<text x="107.2" y="370.6" text-anchor="end">S1P<tspan font-size="6.4" dy="3">1</tspan></text>
<path d="M135,355.6 L139.2,356.8 L143.6,355.6 L143.6,358.3 L139.2,357.3 L135,358.3Z" fill="#111" filter="url(#bl)"/>
<ellipse cx="147.7" cy="357" rx="0.9" ry="0.8" fill="#555" filter="url(#bl2)"/>
<rect x="180.4" y="355.7" width="7.699999999999989" height="2.1999999999999886" rx="0.8" fill="#111" filter="url(#bl)"/>
<rect x="223.9" y="355.9" width="8.299999999999983" height="2.2000000000000455" rx="0.8" fill="#111" filter="url(#bl)"/>
<rect x="114.4" y="367.2" width="7.999999999999986" height="3.2000000000000455" rx="1.2" fill="#111" filter="url(#bl)"/>
<rect x="124.7" y="367.7" width="8.500000000000014" height="3.2000000000000455" rx="1.2" fill="#111" filter="url(#bl)"/>
<rect x="136.6" y="367.7" width="7.300000000000011" height="3.2000000000000455" rx="1.2" fill="#111" filter="url(#bl)"/>
<rect x="147.7" y="367.29999999999995" width="7.700000000000017" height="3.2000000000000455" rx="1.2" fill="#111" filter="url(#bl)"/>
<rect x="158.39999999999998" y="367.29999999999995" width="7.80000000000004" height="3.2000000000000455" rx="1.2" fill="#111" filter="url(#bl)"/>
<rect x="169.2" y="367.0" width="8.100000000000023" height="3.2000000000000455" rx="1.2" fill="#111" filter="url(#bl)"/>
<rect x="180.89999999999998" y="366.59999999999997" width="7.400000000000034" height="3.2000000000000455" rx="1.2" fill="#111" filter="url(#bl)"/>
<rect x="191.6" y="366.2" width="7.100000000000023" height="3.2000000000000455" rx="1.2" fill="#111" filter="url(#bl)"/>
<rect x="202.1" y="365.59999999999997" width="6.700000000000017" height="3.2000000000000455" rx="1.2" fill="#111" filter="url(#bl)"/>
<rect x="211.6" y="366.09999999999997" width="9.100000000000023" height="3.6000000000000227" rx="1.2" fill="#111" filter="url(#bl)"/>
<rect x="223.2" y="366.59999999999997" width="8.300000000000011" height="3.2000000000000455" rx="1.2" fill="#111" filter="url(#bl)"/>
<rect x="234.7" y="367.29999999999995" width="7.500000000000028" height="3.2000000000000455" rx="1.2" fill="#111" filter="url(#bl)"/>
<rect x="245.2" y="367.29999999999995" width="7.800000000000011" height="3.2000000000000455" rx="1.2" fill="#111" filter="url(#bl)"/>
<line x1="210.5" y1="348.5" x2="210.5" y2="373" stroke="#111" stroke-width="1.3"/>
<text x="112.5" y="388.3" text-anchor="end">OGD</text>
<text x="117.2" y="387.6" font-size="9.6" text-anchor="middle" fill="#383838">&#8211;</text>
<text x="127.9" y="388.4" font-size="9.6" text-anchor="middle" fill="#383838">+</text>
<text x="139.4" y="388.4" font-size="9.6" text-anchor="middle" fill="#383838">+</text>
<text x="150.4" y="388.4" font-size="9.6" text-anchor="middle" fill="#383838">+</text>
<text x="161.9" y="388.4" font-size="9.6" text-anchor="middle" fill="#383838">+</text>
<text x="172" y="388.4" font-size="9.6" text-anchor="middle" fill="#383838">+</text>
<text x="183.5" y="388.4" font-size="9.6" text-anchor="middle" fill="#383838">+</text>
<text x="194.2" y="388.4" font-size="9.6" text-anchor="middle" fill="#383838">+</text>
<text x="205.2" y="388.4" font-size="9.6" text-anchor="middle" fill="#383838">+</text>
<text x="216.1" y="388.4" font-size="9.6" text-anchor="middle" fill="#383838">+</text>
<text x="226.8" y="388.4" font-size="9.6" text-anchor="middle" fill="#383838">+</text>
<text x="238.4" y="388.4" font-size="9.6" text-anchor="middle" fill="#383838">+</text>
<text x="249.3" y="388.4" font-size="9.6" text-anchor="middle" fill="#383838">+</text>
<text x="112.5" y="402.4" text-anchor="end">PS</text>
<text x="117.2" y="401.4" font-size="9.6" text-anchor="middle" fill="#383838">&#8211;</text>
<text x="127.9" y="401.4" font-size="9.6" text-anchor="middle" fill="#383838">&#8211;</text>
<text x="139.4" y="402.2" font-size="9.6" text-anchor="middle" fill="#383838">+</text>
<text x="150.4" y="401.4" font-size="9.6" text-anchor="middle" fill="#383838">&#8211;</text>
<text x="161.9" y="402.2" font-size="9.6" text-anchor="middle" fill="#383838">+</text>
<text x="172" y="401.4" font-size="9.6" text-anchor="middle" fill="#383838">&#8211;</text>
<text x="183.5" y="402.2" font-size="9.6" text-anchor="middle" fill="#383838">+</text>
<text x="194.2" y="401.4" font-size="9.6" text-anchor="middle" fill="#383838">&#8211;</text>
<text x="205.2" y="402.2" font-size="9.6" text-anchor="middle" fill="#383838">+</text>
<text x="216.1" y="401.4" font-size="9.6" text-anchor="middle" fill="#383838">&#8211;</text>
<text x="226.8" y="402.2" font-size="9.6" text-anchor="middle" fill="#383838">+</text>
<text x="238.4" y="401.4" font-size="9.6" text-anchor="middle" fill="#383838">&#8211;</text>
<text x="249.3" y="402.2" font-size="9.6" text-anchor="middle" fill="#383838">+</text>
<text x="110.5" y="415.6" text-anchor="end">anti-Tyro3 (N-terminus)</text>
<text x="117.2" y="415.6" font-size="9.6" text-anchor="middle" fill="#383838">&#8211;</text>
<text x="127.9" y="415.6" font-size="9.6" text-anchor="middle" fill="#383838">&#8211;</text>
<text x="139.4" y="415.6" font-size="9.6" text-anchor="middle" fill="#383838">&#8211;</text>
<text x="150.4" y="416.4" font-size="9.6" text-anchor="middle" fill="#383838">+</text>
<text x="161.9" y="416.4" font-size="9.6" text-anchor="middle" fill="#383838">+</text>
<text x="172" y="415.6" font-size="9.6" text-anchor="middle" fill="#383838">&#8211;</text>
<text x="183.5" y="415.6" font-size="9.6" text-anchor="middle" fill="#383838">&#8211;</text>
<text x="194.2" y="416.4" font-size="9.6" text-anchor="middle" fill="#383838">+</text>
<text x="205.2" y="416.4" font-size="9.6" text-anchor="middle" fill="#383838">+</text>
<text x="216.1" y="415.6" font-size="9.6" text-anchor="middle" fill="#383838">&#8211;</text>
<text x="226.8" y="415.6" font-size="9.6" text-anchor="middle" fill="#383838">&#8211;</text>
<text x="238.4" y="416.4" font-size="9.6" text-anchor="middle" fill="#383838">+</text>
<text x="249.3" y="416.4" font-size="9.6" text-anchor="middle" fill="#383838">+</text>
<text x="110.5" y="428.6" text-anchor="end">IgG</text>
<text x="117.2" y="427.4" font-size="9.6" text-anchor="middle" fill="#383838">&#8211;</text>
<text x="127.9" y="428.2" font-size="9.6" text-anchor="middle" fill="#383838">+</text>
<text x="139.4" y="428.2" font-size="9.6" text-anchor="middle" fill="#383838">+</text>
<text x="150.4" y="427.4" font-size="9.6" text-anchor="middle" fill="#383838">&#8211;</text>
<text x="161.9" y="427.4" font-size="9.6" text-anchor="middle" fill="#383838">&#8211;</text>
<text x="172" y="428.2" font-size="9.6" text-anchor="middle" fill="#383838">+</text>
<text x="183.5" y="428.2" font-size="9.6" text-anchor="middle" fill="#383838">+</text>
<text x="194.2" y="427.4" font-size="9.6" text-anchor="middle" fill="#383838">&#8211;</text>
<text x="205.2" y="427.4" font-size="9.6" text-anchor="middle" fill="#383838">&#8211;</text>
<text x="216.1" y="428.2" font-size="9.6" text-anchor="middle" fill="#383838">+</text>
<text x="226.8" y="428.2" font-size="9.6" text-anchor="middle" fill="#383838">+</text>
<text x="238.4" y="427.4" font-size="9.6" text-anchor="middle" fill="#383838">&#8211;</text>
<text x="249.3" y="427.4" font-size="9.6" text-anchor="middle" fill="#383838">&#8211;</text>
<text x="282.5" y="329.6" font-size="13.6" font-weight="bold">E</text>
<text x="438.5" y="335.6">IP: anti-Tyro3</text>
<text x="454" y="347.1">(C-terminus)</text>
<text x="393.5" y="351.2">IP: IgG</text>
<line x1="429.5" y1="354.7" x2="511.5" y2="354.7" stroke="#333" stroke-width="1.1"/>
<rect x="399.2" y="358.5" width="113.8" height="7.3" fill="#e2e2e2"/>
<rect x="399.2" y="368.5" width="113.8" height="7.0" fill="#e2e2e2"/>
<text x="340" y="365.2">IB: anti-S1P<tspan font-size="6.4" dy="3">1</tspan></text>
<text x="395.3" y="376.4" font-size="9.9" text-anchor="end">IB: anti-Tyro3 (C-terminus)</text>
<rect x="430" y="361.2" width="8.800000000000011" height="2.1999999999999886" rx="1" fill="#bbb" filter="url(#bl)"/>
<rect x="442.5" y="360.4" width="12.0" height="3.8000000000000114" rx="1.5" fill="#1a1a1a" filter="url(#bl)"/>
<rect x="457.5" y="361.4" width="10.0" height="2.0" rx="1" fill="#c4c4c4" filter="url(#bl)"/>
<rect x="471.3" y="360.4" width="12.5" height="3.8000000000000114" rx="1.5" fill="#1a1a1a" filter="url(#bl)"/>
<rect x="486.3" y="361.4" width="10.0" height="2.0" rx="1" fill="#bbb" filter="url(#bl)"/>
<rect x="500" y="361.4" width="11.300000000000011" height="2.0" rx="1" fill="#bbb" filter="url(#bl)"/>
<rect x="429.5" y="370.6" width="10.5" height="4.399999999999977" rx="1.5" fill="#111" filter="url(#bl)"/>
<rect x="443" y="370.6" width="11.5" height="4.399999999999977" rx="1.5" fill="#111" filter="url(#bl)"/>
<rect x="457.5" y="370.6" width="10.5" height="4.399999999999977" rx="1.5" fill="#111" filter="url(#bl)"/>
<rect x="471.3" y="370.6" width="11.699999999999989" height="4.399999999999977" rx="1.5" fill="#111" filter="url(#bl)"/>
<rect x="485.5" y="370.6" width="10.800000000000011" height="4.399999999999977" rx="1.5" fill="#111" filter="url(#bl)"/>
<rect x="500" y="370.6" width="12" height="4.399999999999977" rx="1.5" fill="#111" filter="url(#bl)"/>
<text x="401.5" y="391.1" text-anchor="end">PS</text>
<text x="407.5" y="388.7" font-size="9.6" text-anchor="middle" fill="#383838">&#8211;</text>
<text x="420.5" y="389.5" font-size="9.6" text-anchor="middle" fill="#383838">+</text>
<text x="435" y="388.7" font-size="9.6" text-anchor="middle" fill="#383838">&#8211;</text>
<text x="450" y="389.5" font-size="9.6" text-anchor="middle" fill="#383838">+</text>
<text x="465" y="388.7" font-size="9.6" text-anchor="middle" fill="#383838">&#8211;</text>
<text x="479.5" y="389.5" font-size="9.6" text-anchor="middle" fill="#383838">+</text>
<text x="493.8" y="388.7" font-size="9.6" text-anchor="middle" fill="#383838">&#8211;</text>
<text x="506.3" y="389.5" font-size="9.6" text-anchor="middle" fill="#383838">+</text>
<text x="401.5" y="403.4" text-anchor="end">IgG</text>
<text x="407.5" y="401.8" font-size="9.6" text-anchor="middle" fill="#383838">&#8211;</text>
<text x="420.5" y="401.8" font-size="9.6" text-anchor="middle" fill="#383838">&#8211;</text>
<text x="435" y="401.8" font-size="9.6" text-anchor="middle" fill="#383838">&#8211;</text>
<text x="450" y="401.8" font-size="9.6" text-anchor="middle" fill="#383838">&#8211;</text>
<text x="465" y="401.8" font-size="9.6" text-anchor="middle" fill="#383838">&#8211;</text>
<text x="479.5" y="402.6" font-size="9.6" text-anchor="middle" fill="#383838">+</text>
<text x="493.8" y="401.8" font-size="9.6" text-anchor="middle" fill="#383838">&#8211;</text>
<text x="506.3" y="401.8" font-size="9.6" text-anchor="middle" fill="#383838">&#8211;</text>
<text x="401.5" y="415.1" text-anchor="end">anti-Tyro3 (N-terminus)</text>
<text x="407.5" y="413.5" font-size="9.6" text-anchor="middle" fill="#383838">&#8211;</text>
<text x="420.5" y="413.5" font-size="9.6" text-anchor="middle" fill="#383838">&#8211;</text>
<text x="435" y="413.5" font-size="9.6" text-anchor="middle" fill="#383838">&#8211;</text>
<text x="450" y="413.5" font-size="9.6" text-anchor="middle" fill="#383838">&#8211;</text>
<text x="465" y="413.5" font-size="9.6" text-anchor="middle" fill="#383838">&#8211;</text>
<text x="479.5" y="413.5" font-size="9.6" text-anchor="middle" fill="#383838">&#8211;</text>
<text x="493.8" y="413.5" font-size="9.6" text-anchor="middle" fill="#383838">&#8211;</text>
<text x="506.3" y="414.3" font-size="9.6" text-anchor="middle" fill="#383838">+</text>
<text x="16.6" y="447" font-size="13.6" font-weight="bold">F</text>
<text x="136" y="465.2">IP:IgG</text>
<text x="183.6" y="461.4">IP: anti-S1P<tspan font-size="6.4" dy="3">1</tspan></text>
<line x1="167.3" y1="465.7" x2="250" y2="465.7" stroke="#333" stroke-width="1.1"/>
<rect x="138" y="469.8" width="111" height="11.6" fill="#d9d9d9"/>
<rect x="138" y="484" width="111" height="14.3" fill="#d9d9d9"/>
<text x="133.2" y="481.1" font-size="9.9" text-anchor="end">IB: anti-Tyro3 (C-terminus)</text>
<text x="77.5" y="495.5">IB: anti-S1P<tspan font-size="6.4" dy="3">1</tspan></text>
<rect x="166.3" y="475.6" width="10.699999999999989" height="2.7999999999999545" rx="1.2" fill="#9a9a9a" filter="url(#bl2)"/>
<rect x="179.5" y="474.2" width="11.800000000000011" height="4.800000000000011" rx="2.2" fill="#222" filter="url(#bl2)"/>
<rect x="193.8" y="475.4" width="11.199999999999989" height="3.2000000000000455" rx="1.5" fill="#6a6a6a" filter="url(#bl2)"/>
<rect x="208" y="474.2" width="12" height="4.800000000000011" rx="2.2" fill="#222" filter="url(#bl2)"/>
<rect x="222.5" y="475.8" width="11.300000000000011" height="2.3999999999999773" rx="1" fill="#a8a8a8" filter="url(#bl2)"/>
<rect x="236.3" y="475.8" width="11.199999999999989" height="2.3999999999999773" rx="1" fill="#aaa" filter="url(#bl2)"/>
<rect x="166.3" y="490" width="11.199999999999989" height="5" rx="2.2" fill="#262626" filter="url(#bl2)"/>
<rect x="179.5" y="490" width="12.0" height="5" rx="2.2" fill="#262626" filter="url(#bl2)"/>
<rect x="193.5" y="490" width="11.5" height="5" rx="2.2" fill="#262626" filter="url(#bl2)"/>
<rect x="208" y="490" width="12" height="5" rx="2.2" fill="#262626" filter="url(#bl2)"/>
<rect x="222.5" y="490" width="11.5" height="5" rx="2.2" fill="#262626" filter="url(#bl2)"/>
<rect x="236" y="490" width="12" height="5" rx="2.2" fill="#262626" filter="url(#bl2)"/>
<text x="135" y="511.7" text-anchor="end">PS</text>
<text x="145" y="511.4" font-size="9.6" text-anchor="middle" fill="#383838">&#8211;</text>
<text x="157.5" y="512.2" font-size="9.6" text-anchor="middle" fill="#383838">+</text>
<text x="172" y="511.4" font-size="9.6" text-anchor="middle" fill="#383838">&#8211;</text>
<text x="186" y="512.2" font-size="9.6" text-anchor="middle" fill="#383838">+</text>
<text x="200" y="511.4" font-size="9.6" text-anchor="middle" fill="#383838">&#8211;</text>
<text x="214.5" y="512.2" font-size="9.6" text-anchor="middle" fill="#383838">+</text>
<text x="229" y="511.4" font-size="9.6" text-anchor="middle" fill="#383838">&#8211;</text>
<text x="243" y="512.2" font-size="9.6" text-anchor="middle" fill="#383838">+</text>
<text x="135" y="523.5" text-anchor="end">IgG</text>
<text x="145" y="523.0" font-size="9.6" text-anchor="middle" fill="#383838">&#8211;</text>
<text x="157.5" y="523.0" font-size="9.6" text-anchor="middle" fill="#383838">&#8211;</text>
<text x="172" y="523.0" font-size="9.6" text-anchor="middle" fill="#383838">&#8211;</text>
<text x="186" y="523.0" font-size="9.6" text-anchor="middle" fill="#383838">&#8211;</text>
<text x="200" y="523.0" font-size="9.6" text-anchor="middle" fill="#383838">&#8211;</text>
<text x="214.5" y="523.8" font-size="9.6" text-anchor="middle" fill="#383838">+</text>
<text x="229" y="523.0" font-size="9.6" text-anchor="middle" fill="#383838">&#8211;</text>
<text x="243" y="523.0" font-size="9.6" text-anchor="middle" fill="#383838">&#8211;</text>
<text x="135" y="533" text-anchor="end">anti-Tyro3 (N-terminus)</text>
<text x="145" y="533.8" font-size="9.6" text-anchor="middle" fill="#383838">&#8211;</text>
<text x="157.5" y="533.8" font-size="9.6" text-anchor="middle" fill="#383838">&#8211;</text>
<text x="172" y="533.8" font-size="9.6" text-anchor="middle" fill="#383838">&#8211;</text>
<text x="186" y="533.8" font-size="9.6" text-anchor="middle" fill="#383838">&#8211;</text>
<text x="200" y="533.8" font-size="9.6" text-anchor="middle" fill="#383838">&#8211;</text>
<text x="214.5" y="533.8" font-size="9.6" text-anchor="middle" fill="#383838">&#8211;</text>
<text x="229" y="533.8" font-size="9.6" text-anchor="middle" fill="#383838">&#8211;</text>
<text x="243" y="534.6" font-size="9.6" text-anchor="middle" fill="#383838">+</text>
<text x="282.5" y="445" font-size="13.6" font-weight="bold">G</text>
<text x="289.5" y="463.4">Time (min)</text>
<text x="363.4" y="463.6" text-anchor="middle">10</text>
<text x="419.4" y="463.6" text-anchor="middle">30</text>
<text x="476.8" y="463.6" text-anchor="middle">60</text>
<line x1="336.3" y1="470.4" x2="395.5" y2="470.4" stroke="#222" stroke-width="1.2"/>
<line x1="400.5" y1="470.4" x2="448" y2="470.4" stroke="#222" stroke-width="1.2"/>
<line x1="456" y1="470.4" x2="504.6" y2="470.4" stroke="#222" stroke-width="1.2"/>
<rect x="336.3" y="474" width="169.3" height="8.5" fill="#ececec"/>
<rect x="336.3" y="485.6" width="169.3" height="10.6" fill="#e2e2e2"/>
<text x="328" y="481.6" text-anchor="end">pAkt</text>
<text x="328" y="497.1" text-anchor="end">Akt</text>
<rect x="337.5" y="476.5" width="8.099999999999966" height="3.6999999999999886" rx="1.2" fill="#151515" filter="url(#bl)"/>
<rect x="350.5" y="477.3" width="7.800000000000011" height="2.8999999999999773" rx="1.2" fill="#151515" filter="url(#bl)"/>
<rect x="362.40000000000003" y="475.3" width="10.199999999999932" height="5.5" rx="1.2" fill="#151515" filter="url(#bl)"/>
<rect x="376.5" y="476.8" width="9.5" height="3.5" rx="1.2" fill="#151515" filter="url(#bl)"/>
<rect x="389.6" y="476.8" width="9.599999999999966" height="3.6000000000000227" rx="1.2" fill="#151515" filter="url(#bl)"/>
<rect x="402.8" y="476.6" width="9.399999999999977" height="3.8000000000000114" rx="1.2" fill="#151515" filter="url(#bl)"/>
<rect x="415.8" y="475.3" width="10.199999999999989" height="5.5" rx="1.2" fill="#151515" filter="url(#bl)"/>
<rect x="429.0" y="477.1" width="9.399999999999977" height="3.5" rx="1.2" fill="#151515" filter="url(#bl)"/>
<rect x="442.3" y="477.7" width="7.399999999999977" height="2.5" rx="1.2" fill="#151515" filter="url(#bl)"/>
<rect x="455.90000000000003" y="477.5" width="8.999999999999943" height="2.900000000000034" rx="1.2" fill="#151515" filter="url(#bl)"/>
<rect x="468.0" y="476.7" width="10.399999999999977" height="4.100000000000023" rx="1.2" fill="#151515" filter="url(#bl)"/>
<rect x="481.8" y="477.7" width="9.399999999999977" height="2.7000000000000455" rx="1.2" fill="#151515" filter="url(#bl)"/>
<rect x="494.90000000000003" y="477.90000000000003" width="9.399999999999977" height="2.2999999999999545" rx="1.2" fill="#151515" filter="url(#bl)"/>
<rect x="337" y="489.075" width="13" height="4.25" rx="1.3" fill="#1c1c1c" filter="url(#bl)"/>
<rect x="349" y="488.73" width="13.5" height="3.740000000000009" rx="1.3" fill="#1c1c1c" filter="url(#bl)"/>
<rect x="361.5" y="489.11499999999995" width="14.5" height="3.57000000000005" rx="1.3" fill="#1c1c1c" filter="url(#bl)"/>
<rect x="375" y="489.03" width="14.5" height="3.740000000000009" rx="1.3" fill="#1c1c1c" filter="url(#bl)"/>
<rect x="388.5" y="489.0" width="13.5" height="3.3999999999999773" rx="1.3" fill="#1c1c1c" filter="url(#bl)"/>
<rect x="401" y="489.03" width="14" height="3.740000000000009" rx="1.3" fill="#1c1c1c" filter="url(#bl)"/>
<rect x="414" y="488.63" width="14" height="3.740000000000009" rx="1.3" fill="#1c1c1c" filter="url(#bl)"/>
<rect x="427" y="489.11499999999995" width="14" height="3.57000000000005" rx="1.3" fill="#1c1c1c" filter="url(#bl)"/>
<rect x="440" y="489.13" width="13" height="3.740000000000009" rx="1.3" fill="#1c1c1c" filter="url(#bl)"/>
<rect x="455.5" y="489.61499999999995" width="11.0" height="3.57000000000005" rx="1.3" fill="#1c1c1c" filter="url(#bl)"/>
<rect x="467" y="489.28499999999997" width="13" height="3.230000000000018" rx="1.3" fill="#1c1c1c" filter="url(#bl)"/>
<rect x="481" y="489.15500000000003" width="12" height="2.8899999999999864" rx="1.3" fill="#1c1c1c" filter="url(#bl)"/>
<rect x="493.5" y="488.3" width="11.5" height="3.3999999999999773" rx="1.3" fill="#1c1c1c" filter="url(#bl)"/>
<line x1="454" y1="473.8" x2="454" y2="495.5" stroke="#111" stroke-width="1.3"/>
<line x1="335" y1="516.3" x2="335" y2="617.6" stroke="#222" stroke-width="1.3"/>
<line x1="334.4" y1="617" x2="507.5" y2="617" stroke="#222" stroke-width="1.3"/>
<line x1="331.5" y1="525.4" x2="335" y2="525.4" stroke="#222" stroke-width="1.2"/>
<text x="330.8" y="529.1" font-size="10.5" text-anchor="end">4</text>
<line x1="331.5" y1="548.3" x2="335" y2="548.3" stroke="#222" stroke-width="1.2"/>
<text x="330.8" y="552.0" font-size="10.5" text-anchor="end">3</text>
<line x1="331.5" y1="571.2" x2="335" y2="571.2" stroke="#222" stroke-width="1.2"/>
<text x="330.8" y="574.9000000000001" font-size="10.5" text-anchor="end">2</text>
<line x1="331.5" y1="594.1" x2="335" y2="594.1" stroke="#222" stroke-width="1.2"/>
<text x="330.8" y="597.8000000000001" font-size="10.5" text-anchor="end">1</text>
<line x1="331.5" y1="617.0" x2="335" y2="617.0" stroke="#222" stroke-width="1.2"/>
<text x="330.8" y="620.7" font-size="10.5" text-anchor="end">0</text>
<text transform="translate(300.7,562.6) rotate(-90)" text-anchor="middle" font-size="10.6">pAkt/total Akt levels</text>
<text transform="translate(311.8,562.6) rotate(-90)" text-anchor="middle" font-size="10.6">(% of control)</text>
<line x1="341.9" y1="591.3" x2="341.9" y2="594.5" stroke="#222" stroke-width="1"/>
<line x1="339.7" y1="591.3" x2="344.09999999999997" y2="591.3" stroke="#222" stroke-width="1"/>
<rect x="338.7" y="594.5" width="6.4" height="22.5" fill="#0a0a0a"/>
<line x1="355" y1="593" x2="355" y2="594.5" stroke="#222" stroke-width="1"/>
<line x1="352.8" y1="593" x2="357.2" y2="593" stroke="#222" stroke-width="1"/>
<rect x="351.8" y="594.5" width="6.4" height="22.5" fill="#0a0a0a"/>
<line x1="368.4" y1="549.8" x2="368.4" y2="552.5" stroke="#222" stroke-width="1"/>
<line x1="366.2" y1="549.8" x2="370.59999999999997" y2="549.8" stroke="#222" stroke-width="1"/>
<rect x="365.2" y="552.5" width="6.4" height="64.5" fill="#0a0a0a"/>
<line x1="381.4" y1="591.5" x2="381.4" y2="594.5" stroke="#222" stroke-width="1"/>
<line x1="379.2" y1="591.5" x2="383.59999999999997" y2="591.5" stroke="#222" stroke-width="1"/>
<rect x="378.2" y="594.5" width="6.4" height="22.5" fill="#0a0a0a"/>
<line x1="394.4" y1="589.5" x2="394.4" y2="592" stroke="#222" stroke-width="1"/>
<line x1="392.2" y1="589.5" x2="396.59999999999997" y2="589.5" stroke="#222" stroke-width="1"/>
<rect x="391.2" y="592" width="6.4" height="25" fill="#0a0a0a"/>
<line x1="407.9" y1="592.5" x2="407.9" y2="594.5" stroke="#222" stroke-width="1"/>
<line x1="405.7" y1="592.5" x2="410.09999999999997" y2="592.5" stroke="#222" stroke-width="1"/>
<rect x="404.7" y="594.5" width="6.4" height="22.5" fill="#0a0a0a"/>
<line x1="421" y1="518.75" x2="421" y2="528.25" stroke="#222" stroke-width="1"/>
<line x1="418.8" y1="518.75" x2="423.2" y2="518.75" stroke="#222" stroke-width="1"/>
<rect x="417.8" y="528.25" width="6.4" height="88.75" fill="#0a0a0a"/>
<line x1="434.1" y1="588" x2="434.1" y2="591.25" stroke="#222" stroke-width="1"/>
<line x1="431.90000000000003" y1="588" x2="436.3" y2="588" stroke="#222" stroke-width="1"/>
<rect x="430.90000000000003" y="591.25" width="6.4" height="25.75" fill="#0a0a0a"/>
<line x1="447.4" y1="578.25" x2="447.4" y2="585" stroke="#222" stroke-width="1"/>
<line x1="445.2" y1="578.25" x2="449.59999999999997" y2="578.25" stroke="#222" stroke-width="1"/>
<rect x="444.2" y="585" width="6.4" height="32" fill="#0a0a0a"/>
<line x1="460.6" y1="588.75" x2="460.6" y2="594.25" stroke="#222" stroke-width="1"/>
<line x1="458.40000000000003" y1="588.75" x2="462.8" y2="588.75" stroke="#222" stroke-width="1"/>
<rect x="457.40000000000003" y="594.25" width="6.4" height="22.75" fill="#0a0a0a"/>
<line x1="473.75" y1="532" x2="473.75" y2="540" stroke="#222" stroke-width="1"/>
<line x1="471.55" y1="532" x2="475.95" y2="532" stroke="#222" stroke-width="1"/>
<rect x="470.55" y="540" width="6.4" height="77" fill="#0a0a0a"/>
<line x1="486.9" y1="580.5" x2="486.9" y2="585" stroke="#222" stroke-width="1"/>
<line x1="484.7" y1="580.5" x2="489.09999999999997" y2="580.5" stroke="#222" stroke-width="1"/>
<rect x="483.7" y="585" width="6.4" height="32" fill="#0a0a0a"/>
<rect x="497.2" y="588" width="6.4" height="29" fill="#0a0a0a"/>
<text x="349.5" y="537" font-size="9.2"><tspan font-style="italic">P</tspan> &lt; .05</text>
<path d="M355,591.25 V543.75 H368 V547.5" fill="none" stroke="#222" stroke-width="0.9"/>
<text x="398.75" y="508" font-size="9.2"><tspan font-style="italic">P</tspan> &lt; .05</text>
<path d="M407,585 V511.75 H420.75 V518" fill="none" stroke="#222" stroke-width="0.9"/>
<text x="451.25" y="523" font-size="9.2"><tspan font-style="italic">P</tspan> &lt; .05</text>
<path d="M460,588.75 V525 H473.75 V532" fill="none" stroke="#222" stroke-width="0.9"/>
<text x="382.3" y="583.4" font-size="9.4">NS</text>
<line x1="378" y1="587.5" x2="396.3" y2="587.5" stroke="#222" stroke-width="1"/>
<text x="432.3" y="572.6" font-size="9.4">NS</text>
<line x1="428" y1="575.5" x2="448" y2="575.5" stroke="#222" stroke-width="1"/>
<text x="489.8" y="573.1" font-size="9.4">NS</text>
<line x1="488.8" y1="578" x2="505" y2="578" stroke="#222" stroke-width="1"/>
<text x="332.5" y="632" text-anchor="end">OGD</text>
<text x="340.8" y="631.2" font-size="9.6" text-anchor="middle" fill="#383838">&#8211;</text>
<text x="354.8" y="632" font-size="9.6" text-anchor="middle" fill="#383838">+</text>
<text x="368.7" y="632" font-size="9.6" text-anchor="middle" fill="#383838">+</text>
<text x="382" y="632" font-size="9.6" text-anchor="middle" fill="#383838">+</text>
<text x="394.5" y="632" font-size="9.6" text-anchor="middle" fill="#383838">+</text>
<text x="407" y="632" font-size="9.6" text-anchor="middle" fill="#383838">+</text>
<text x="420.5" y="632" font-size="9.6" text-anchor="middle" fill="#383838">+</text>
<text x="434.5" y="632" font-size="9.6" text-anchor="middle" fill="#383838">+</text>
<text x="448" y="632" font-size="9.6" text-anchor="middle" fill="#383838">+</text>
<text x="461.3" y="632" font-size="9.6" text-anchor="middle" fill="#383838">+</text>
<text x="474.5" y="632" font-size="9.6" text-anchor="middle" fill="#383838">+</text>
<text x="487.5" y="632" font-size="9.6" text-anchor="middle" fill="#383838">+</text>
<text x="500.8" y="632" font-size="9.6" text-anchor="middle" fill="#383838">+</text>
<text x="332.5" y="644" text-anchor="end">PS</text>
<text x="340.8" y="643.8" font-size="9.6" text-anchor="middle" fill="#383838">&#8211;</text>
<text x="354.8" y="643.8" font-size="9.6" text-anchor="middle" fill="#383838">&#8211;</text>
<text x="368.7" y="644.6" font-size="9.6" text-anchor="middle" fill="#383838">+</text>
<text x="382" y="643.8" font-size="9.6" text-anchor="middle" fill="#383838">&#8211;</text>
<text x="394.5" y="644.6" font-size="9.6" text-anchor="middle" fill="#383838">+</text>
<text x="407" y="643.8" font-size="9.6" text-anchor="middle" fill="#383838">&#8211;</text>
<text x="420.5" y="644.6" font-size="9.6" text-anchor="middle" fill="#383838">+</text>
<text x="434.5" y="643.8" font-size="9.6" text-anchor="middle" fill="#383838">&#8211;</text>
<text x="448" y="644.6" font-size="9.6" text-anchor="middle" fill="#383838">+</text>
<text x="461.3" y="643.8" font-size="9.6" text-anchor="middle" fill="#383838">&#8211;</text>
<text x="474.5" y="644.6" font-size="9.6" text-anchor="middle" fill="#383838">+</text>
<text x="487.5" y="643.8" font-size="9.6" text-anchor="middle" fill="#383838">&#8211;</text>
<text x="500.8" y="644.6" font-size="9.6" text-anchor="middle" fill="#383838">+</text>
<text x="332.5" y="656" text-anchor="end">anti-Tyro3 (N-terminus)</text>
<text x="340.8" y="656.2" font-size="9.6" text-anchor="middle" fill="#383838">&#8211;</text>
<text x="354.8" y="656.2" font-size="9.6" text-anchor="middle" fill="#383838">&#8211;</text>
<text x="368.7" y="656.2" font-size="9.6" text-anchor="middle" fill="#383838">&#8211;</text>
<text x="382" y="657" font-size="9.6" text-anchor="middle" fill="#383838">+</text>
<text x="394.5" y="657" font-size="9.6" text-anchor="middle" fill="#383838">+</text>
<text x="407" y="656.2" font-size="9.6" text-anchor="middle" fill="#383838">&#8211;</text>
<text x="420.5" y="656.2" font-size="9.6" text-anchor="middle" fill="#383838">&#8211;</text>
<text x="434.5" y="657" font-size="9.6" text-anchor="middle" fill="#383838">+</text>
<text x="448" y="657" font-size="9.6" text-anchor="middle" fill="#383838">+</text>
<text x="461.3" y="656.2" font-size="9.6" text-anchor="middle" fill="#383838">&#8211;</text>
<text x="474.5" y="656.2" font-size="9.6" text-anchor="middle" fill="#383838">&#8211;</text>
<text x="487.5" y="657" font-size="9.6" text-anchor="middle" fill="#383838">+</text>
<text x="500.8" y="657" font-size="9.6" text-anchor="middle" fill="#383838">+</text>
<text x="332.5" y="670" text-anchor="end">IgG</text>
<text x="340.8" y="668.8" font-size="9.6" text-anchor="middle" fill="#383838">&#8211;</text>
<text x="354.8" y="669.6" font-size="9.6" text-anchor="middle" fill="#383838">+</text>
<text x="368.7" y="669.6" font-size="9.6" text-anchor="middle" fill="#383838">+</text>
<text x="382" y="668.8" font-size="9.6" text-anchor="middle" fill="#383838">&#8211;</text>
<text x="394.5" y="668.8" font-size="9.6" text-anchor="middle" fill="#383838">&#8211;</text>
<text x="407" y="669.6" font-size="9.6" text-anchor="middle" fill="#383838">+</text>
<text x="420.5" y="669.6" font-size="9.6" text-anchor="middle" fill="#383838">+</text>
<text x="434.5" y="668.8" font-size="9.6" text-anchor="middle" fill="#383838">&#8211;</text>
<text x="448" y="668.8" font-size="9.6" text-anchor="middle" fill="#383838">&#8211;</text>
<text x="461.3" y="669.6" font-size="9.6" text-anchor="middle" fill="#383838">+</text>
<text x="474.5" y="669.6" font-size="9.6" text-anchor="middle" fill="#383838">+</text>
<text x="487.5" y="668.8" font-size="9.6" text-anchor="middle" fill="#383838">&#8211;</text>
<text x="500.8" y="668.8" font-size="9.6" text-anchor="middle" fill="#383838">&#8211;</text>
<text x="16.3" y="561.3" font-size="13.6" font-weight="bold">H</text>
<text x="48" y="566">IP: S1P<tspan font-size="6.4" dy="3">1</tspan></text>
<text x="48" y="582.4">IB: pThr</text>
<text x="48" y="597.4">IB: S1P<tspan font-size="6.4" dy="3">1</tspan></text>
<defs><linearGradient id="hg" x1="0" y1="0" x2="1" y2="1"><stop offset="0" stop-color="#c6c6c6"/><stop offset="1" stop-color="#e0e0e0"/></linearGradient></defs>
<rect x="95.1" y="574.7" width="57.2" height="8.8" fill="url(#hg)"/>
<rect x="95.1" y="588.5" width="57.2" height="9.2" fill="#d8d8d8"/>
<ellipse cx="97.5" cy="580.5" rx="1.3" ry="1.5" fill="#111" filter="url(#bl)"/>
<ellipse cx="105.3" cy="580.5" rx="1.0" ry="1.0" fill="#222" filter="url(#bl)"/>
<ellipse cx="112.3" cy="580.5" rx="1.5" ry="1.6" fill="#111" filter="url(#bl)"/>
<ellipse cx="119.6" cy="580.5" rx="1.8" ry="1.3" fill="#111" filter="url(#bl)"/>
<ellipse cx="122" cy="580.5" rx="0.9" ry="0.8" fill="#222" filter="url(#bl)"/>
<ellipse cx="127.1" cy="580.5" rx="1.5" ry="1.5" fill="#111" filter="url(#bl)"/>
<ellipse cx="135.1" cy="580.5" rx="1.3" ry="1.5" fill="#111" filter="url(#bl)"/>
<ellipse cx="142.5" cy="580.5" rx="0.8" ry="0.8" fill="#999" filter="url(#bl)"/>
<ellipse cx="149.8" cy="580.5" rx="0.7" ry="0.9" fill="#aaa" filter="url(#bl)"/>
<rect x="96.3" y="591.9" width="13.5" height="3.300000000000068" rx="1.4" fill="#1a1a1a" filter="url(#bl)"/>
<rect x="111.7" y="591.5" width="11.700000000000003" height="4.600000000000023" rx="1.4" fill="#1a1a1a" filter="url(#bl)"/>
<rect x="125.8" y="592.5" width="10.799999999999997" height="2.1000000000000227" rx="1.4" fill="#1a1a1a" filter="url(#bl)"/>
<rect x="139.4" y="592.2" width="12.900000000000006" height="3.599999999999909" rx="1.4" fill="#1a1a1a" filter="url(#bl)"/>
<text x="83" y="613.5" text-anchor="end">PS</text>
<text x="103.2" y="612.0" font-size="9.6" text-anchor="middle" fill="#383838">&#8211;</text>
<text x="117.2" y="612.8" font-size="9.6" text-anchor="middle" fill="#383838">+</text>
<text x="130.3" y="612.8" font-size="9.6" text-anchor="middle" fill="#383838">+</text>
<text x="145.1" y="612.8" font-size="9.6" text-anchor="middle" fill="#383838">+</text>
<text x="83" y="627" text-anchor="end">Vehicle</text>
<text x="103.2" y="626.2" font-size="9.6" text-anchor="middle" fill="#383838">&#8211;</text>
<text x="117.2" y="626.2" font-size="9.6" text-anchor="middle" fill="#383838">&#8211;</text>
<text x="130.3" y="627" font-size="9.6" text-anchor="middle" fill="#383838">+</text>
<text x="145.1" y="626.2" font-size="9.6" text-anchor="middle" fill="#383838">&#8211;</text>
<text x="83" y="640.3" font-size="9.8" text-anchor="end">LY294002</text>
<text x="103.2" y="639.5" font-size="9.6" text-anchor="middle" fill="#383838">&#8211;</text>
<text x="117.2" y="639.5" font-size="9.6" text-anchor="middle" fill="#383838">&#8211;</text>
<text x="130.3" y="639.5" font-size="9.6" text-anchor="middle" fill="#383838">&#8211;</text>
<text x="145.1" y="640.3" font-size="9.6" text-anchor="middle" fill="#383838">+</text>
</svg></body></html>
